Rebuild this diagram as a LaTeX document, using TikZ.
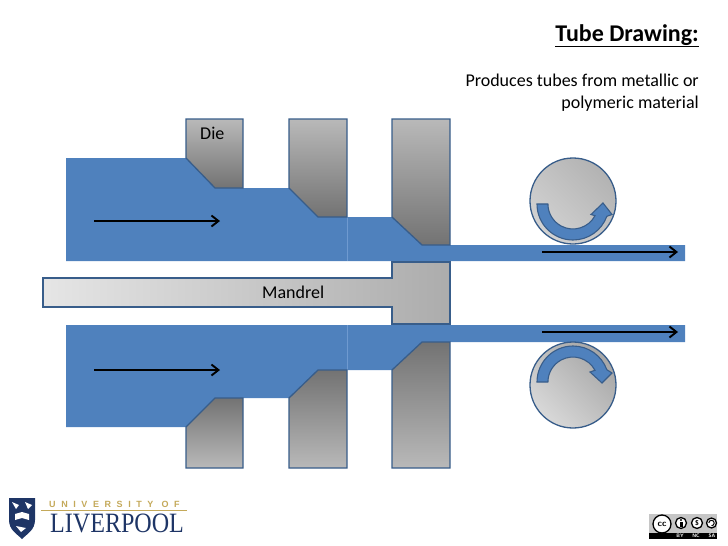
\documentclass[tikz,border=0pt]{standalone}
\usepackage{fontspec}
\setmainfont{Carlito}
\newfontfamily\logofont{Liberation Serif}
\newfontfamily\unifont[LetterSpace=62]{Liberation Sans}
\usetikzlibrary{calc,arrows.meta}
\definecolor{stockblue}{HTML}{4F81BD}
\definecolor{edgeblue}{HTML}{385D8A}
\definecolor{seamblue}{HTML}{6F9AD0}
\definecolor{crestblue}{HTML}{1E3566}
\definecolor{logogold}{HTML}{C4A95A}
\tikzset{
  stock/.style={fill=stockblue, draw=none},
  seam/.style={draw=seamblue, line width=0.6pt},
  dieup/.style={draw=edgeblue, line width=1.3pt, line join=miter, top color=gray!55, bottom color=gray!90!black},
  diedown/.style={draw=edgeblue, line width=1.3pt, line join=miter, top color=gray!90!black, bottom color=gray!55},
  mandrel/.style={draw=edgeblue, line width=1.3pt, left color=gray!20, right color=gray!65},
  roller/.style={draw=edgeblue, line width=1.3pt},
  spin/.style={fill=stockblue, draw=edgeblue, line width=1.1pt, line join=miter},
  flow/.style={-{Straight Barb[length=7pt,width=11pt]}, black, line width=1.9pt},
  label/.style={font=\fontsize{18}{22}\selectfont, inner sep=0pt},
  ccring/.style={draw=black, fill=white, line width=1.3pt},
  cctext/.style={inner sep=0pt, text=white, font=\sffamily\bfseries\fontsize{5}{5}\selectfont}
}
\begin{document}
\begin{tikzpicture}[x=1pt, y=-1pt]
    \useasboundingbox (0,0) rectangle (728,546);

    % tube stock
    \fill[stock] (66,158) -- (186,158) -- (215,188) -- (289,188) -- (318,217) -- (392,217) -- (422,245) -- (685,245) -- (685,261) -- (66,261) -- cycle;
    \fill[stock] (66,325) -- (685,325) -- (685,342) -- (422,342) -- (392,370) -- (318,370) -- (289,398) -- (215,398) -- (186,427) -- (66,427) -- cycle;
    \draw[seam] (347,217) -- (347,261);
    \draw[seam] (347,325) -- (347,370);

    % dies
    \draw[dieup] (186,119) -- (243,119) -- (243,188) -- (215,188) -- (186,158) -- cycle;
    \draw[dieup] (289,119) -- (347,119) -- (347,217) -- (318,217) -- (289,188) -- cycle;
    \draw[dieup] (392,119) -- (450,119) -- (450,245) -- (422,245) -- (392,217) -- cycle;
    \draw[diedown] (215,398) -- (243,398) -- (243,468) -- (186,468) -- (186,427) -- cycle;
    \draw[diedown] (318,370) -- (347,370) -- (347,468) -- (289,468) -- (289,398) -- cycle;
    \draw[diedown] (422,342) -- (450,342) -- (450,468) -- (392,468) -- (392,370) -- cycle;

    \draw[mandrel] (43,278) -- (392,278) -- (392,262) -- (450,262) -- (450,324) -- (392,324) -- (392,307) -- (43,307) -- cycle;

    % rollers
    \draw[roller, left color=gray!60, right color=gray!35, shading angle=-45] (573,201) circle (43pt);
    \draw[roller, left color=gray!70, right color=gray!30, shading angle=-45] (573,385) circle (43pt);
    \draw[spin] (537,204) arc[start angle=180, end angle=340, radius=36pt] -- (612,214.5) -- (603,203) -- (591,214.5) -- (595,215.7) arc[start angle=-28, end angle=-180, radius=25pt] -- cycle;
    \draw[spin] (537,382) arc[start angle=180, end angle=20, radius=36pt] -- (612,373) -- (602,383) -- (590,372) -- (595,370.3) arc[start angle=28, end angle=180, radius=25pt] -- cycle;

    % flow arrows
    \coordinate (inup) at (94,221);
    \coordinate (inupend) at (220,221);
    \coordinate (indown) at (94,370);
    \coordinate (indownend) at (220,370);
    \coordinate (outup) at (542,252);
    \coordinate (outupend) at (678,252);
    \coordinate (outdown) at (542,332);
    \coordinate (outdownend) at (678,332);
    \draw[flow] (inup) -- (inupend);
    \draw[flow] (indown) -- (indownend);
    \draw[flow] (outup) -- (outupend);
    \draw[flow] (outdown) -- (outdownend);

    \node[label, anchor=base west] (die) at (200,139) {Die};
    \node[label, anchor=base west] (man) at (262,298) {Mandrel};
    \node[label, anchor=base east, font=\bfseries\fontsize{24}{28}\selectfont] (title) at (699,41) {\underline{Tube Drawing:}};
    \node[label, anchor=north east, align=right] (sub) at (699,74) {Produces tubes from metallic or\\polymeric material};

    % university logo
    \fill[crestblue] (9,498) -- (35,498) -- (35,520) .. controls (35,530) and (27,534) .. (22,539) .. controls (17,534) and (9,530) .. (9,520) -- cycle;
    \fill[white] (12,502) -- (19,505) -- (16,509) -- cycle;
    \fill[white] (25,502) -- (32,505) -- (28,509) -- cycle;
    \fill[white] (15,514) -- (22,512) -- (29,514) -- (29,520) -- (22,518) -- (15,520) -- cycle;
    \fill[white] (16,526) -- (26,528) -- (21,532) -- cycle;
    \node[inner sep=0pt, anchor=base west, text=logogold, font=\unifont\bfseries\fontsize{9}{10}\selectfont] (uni) at (49,507.5) {UNIVERSITY OF};
    \coordinate (rulea) at (41,510);
    \coordinate (ruleb) at (187,510);
    \draw[logogold, line width=0.7pt] (rulea) -- (ruleb);
    \node[inner sep=0pt, anchor=base west, text=crestblue, xscale=0.86, font=\logofont\fontsize{28}{30}\selectfont] (liv) at (50,532.5) {LIVERPOOL};

    % cc badge
    \fill[gray!45] (649,514) rectangle (717,539);
    \fill[black] (649,533) rectangle (717,539);
    \draw[ccring] (662,524) circle (9pt);
    \node[inner sep=0pt, font=\sffamily\bfseries\fontsize{9}{9}\selectfont] (cc) at (662,524) {cc};
    \draw[ccring] (681,523) circle (5.5pt);
    \draw[ccring] (697,523) circle (5.5pt);
    \draw[ccring] (711.5,523) circle (5pt);
    \fill[black] (681,520) circle (1.2pt);
    \fill[black] (679.5,522) rectangle (682.5,527);
    \node[inner sep=0pt, font=\sffamily\bfseries\fontsize{7}{7}\selectfont] (dollar) at (697,523) {\$};
    \draw[black, line width=1pt] (708.8,523) arc[start angle=180, end angle=-90, radius=2.7pt];
    \node[cctext] (by) at (680,536) {BY};
    \node[cctext] (nc) at (696,536) {NC};
    \node[cctext] (sa) at (712,536) {SA};
\end{tikzpicture}
\end{document}
